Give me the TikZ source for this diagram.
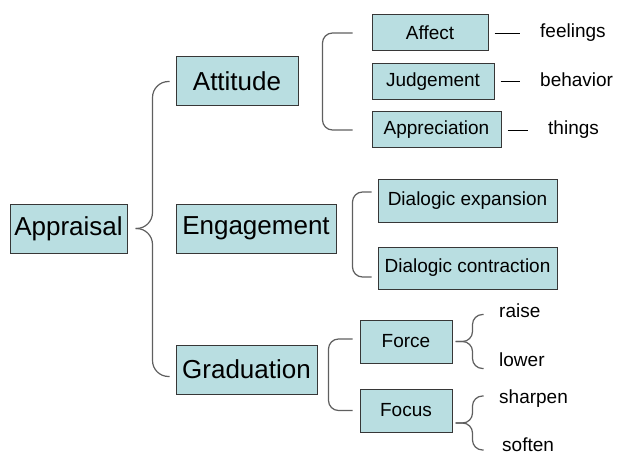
\documentclass[tikz,border=0pt]{standalone}
\usepackage{fontspec}
\setmainfont{Liberation Sans}
\usetikzlibrary{positioning}

\definecolor{boxfill}{RGB}{185,222,225}
\definecolor{boxline}{RGB}{55,55,55}
\definecolor{braceline}{RGB}{95,95,95}

\begin{document}
\begin{tikzpicture}
[on grid, inner sep=0pt,
 bigbox/.style={draw=boxline, fill=boxfill, line width=1pt, minimum height=49pt, font=\fontsize{26}{30}\selectfont},
 smallbox/.style={draw=boxline, fill=boxfill, line width=1pt, font=\fontsize{19}{23}\selectfont},
 word/.style={text height=13.6pt, text depth=4pt, font=\fontsize{19}{23}\selectfont},
 brace/.style={draw=braceline, line width=1.2pt, rounded corners=16pt},
 bracket/.style={draw=braceline, line width=1.2pt, rounded corners=10pt},
 tie/.style={draw=black, line width=0.8pt, shorten <=6pt, shorten >=20pt}]

\useasboundingbox (0,0) rectangle (620pt,-457pt);

\node[bigbox, minimum width=117pt] (appraisal) at (68.5pt,-228.5pt) {Appraisal};
\node[bigbox, minimum width=122pt, above right=147pt and 168.5pt of appraisal] (attitude) {Attitude};
\node[bigbox, minimum width=160pt, right=187.5pt of appraisal] (engagement) {Engagement};
\node[bigbox, minimum width=141pt, below right=141pt and 178pt of appraisal] (graduation) {Graduation};

\node[smallbox, minimum width=116pt, minimum height=36pt, above right=48.5pt and 193pt of attitude] (affect) {Affect};
\node[smallbox, minimum width=122pt, minimum height=36pt, right=196pt of attitude] (judgement) {Judgement};
\node[smallbox, minimum width=129pt, minimum height=36pt, below right=48.5pt and 199.5pt of attitude] (appreciation) {Appreciation};

\node[smallbox, minimum width=179pt, minimum height=43pt, above right=28pt and 211.5pt of engagement] (expansion) {Dialogic expansion};
\node[smallbox, minimum width=179pt, minimum height=42pt, below right=39.5pt and 211.5pt of engagement] (contraction) {Dialogic contraction};

\node[smallbox, minimum width=92pt, minimum height=43pt, above right=28pt and 159.5pt of graduation] (force) {Force};
\node[smallbox, minimum width=92pt, minimum height=43pt, below right=41pt and 159.5pt of graduation] (focus) {Focus};

\node[word, right=110pt of affect, anchor=west] (feelings) {feelings};
\node[word, right=107pt of judgement, anchor=west] (behavior) {behavior};
\node[word, right=111.5pt of appreciation, anchor=west] (things) {things};
\node[word, above right=28.5pt and 93pt of force, anchor=west] (raise) {raise};
\node[word, below right=20.5pt and 93pt of force, anchor=west] (lower) {lower};
\node[word, above right=11.5pt and 93pt of focus, anchor=west] (sharpen) {sharpen};
\node[word, below right=36.5pt and 96pt of focus, anchor=west] (soften) {soften};

% brace from Appraisal
\coordinate (apptip) at ([xshift=8pt]appraisal.east);
\draw[brace] (apptip) -- ++(17pt,0) |- ([xshift=-6pt]attitude.west);
\draw[brace] (apptip) -- ++(17pt,0) |- ([shift={(-6pt,-7pt)}]graduation.west);

% brackets
\draw[bracket] ([xshift=-19pt]affect.west) -| ([xshift=-49pt]appreciation.west) -- ([xshift=-19pt]appreciation.west);
\draw[bracket] ([shift={(-6pt,8.5pt)}]expansion.west) -| ([shift={(-25pt,-9pt)}]contraction.west) -- ([shift={(-6pt,-9pt)}]contraction.west);
\draw[bracket] ([shift={(-7pt,2.5pt)}]force.west) -| ([xshift=-31pt]focus.west) -- ([xshift=-7pt]focus.west);

% small braces
\coordinate (forcetip) at ([xshift=3pt]force.east);
\coordinate (focustip) at ([shift={(3pt,-12.5pt)}]focus.east);
\draw[bracket] (forcetip) -- ++(17pt,0) |- ++(11pt,27pt);
\draw[bracket] (forcetip) -- ++(17pt,0) |- ++(11pt,-27pt);
\draw[bracket] (focustip) -- ++(17pt,0) |- ++(11pt,27pt);
\draw[bracket] (focustip) -- ++(17pt,0) |- ++(11pt,-27pt);

% ties
\draw[tie] (affect) -- (feelings);
\draw[tie] (judgement) -- (behavior);
\draw[tie] (appreciation) -- (things);
\end{tikzpicture}
\end{document}
